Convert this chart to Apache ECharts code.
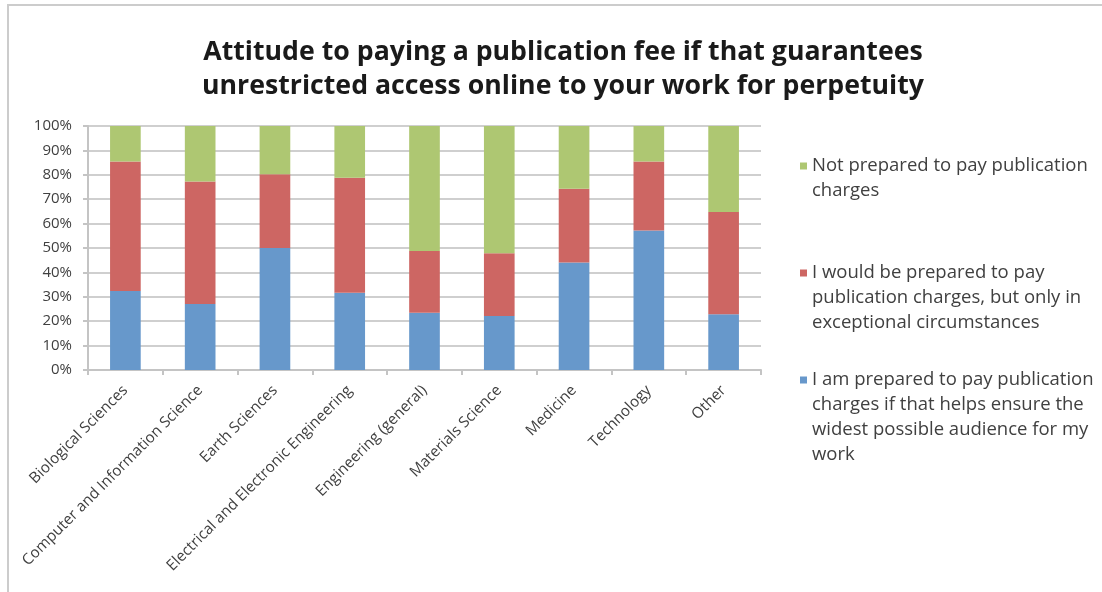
<!DOCTYPE html>
<html>
<head>
<meta charset="utf-8">
<script src="https://cdn.jsdelivr.net/npm/echarts@6/dist/echarts.min.js"></script>
<style>
  html, body { margin: 0; padding: 0; background: #fff; }
  #chart { width: 1102px; height: 592px; }
</style>
</head>
<body>
<div id="chart"></div>
<script>
// Subject areas along the x axis
const categories = [
  'Biological Sciences',
  'Computer and Information Science',
  'Earth Sciences',
  'Electrical and Electronic Engineering',
  'Engineering (general)',
  'Materials Science',
  'Medicine',
  'Technology',
  'Other'
];

// Share of respondents (%) per answer, per subject
const preparedToPay = [32.4, 27.0, 50.0, 31.7, 23.5, 22.1, 44.1, 57.2, 22.8];
const onlyExceptional = [53.0, 50.3, 30.2, 47.1, 25.3, 25.7, 30.2, 28.2, 42.0];
const notPrepared = [14.6, 22.7, 19.8, 21.2, 51.2, 52.2, 25.7, 14.6, 35.2];

// Y axis ticks (percent)
const yTicks = [0, 10, 20, 30, 40, 50, 60, 70, 80, 90, 100];

const names = {
  green: 'Not prepared to pay publication charges',
  red: 'I would be prepared to pay publication charges, but only in exceptional circumstances',
  blue: 'I am prepared to pay publication charges if that helps ensure the widest possible audience for my work'
};

// Wrapped legend labels
const legendLines = {};
legendLines[names.green] = ['Not prepared to pay publication', 'charges'];
legendLines[names.red] = ['I would be prepared to pay', 'publication charges, but only in', 'exceptional circumstances'];
legendLines[names.blue] = ['I am prepared to pay publication', 'charges if that helps ensure the', 'widest possible audience for my', 'work'];

const colors = { blue: '#6798CB', red: '#CD6663', green: '#AEC772' };
const FONT = '"Open Sans", Lato, sans-serif';
const LINE_H = 25;

// Blank lines above keep the legend swatch level with the first line of text
function legendFormatter(name) {
  const lines = legendLines[name];
  const pad = new Array(lines.length - 1).fill('');
  return pad.concat(lines).join('\n');
}

function makeLegend(name, firstLineY) {
  const n = legendLines[name].length;
  return {
    data: [name],
    orient: 'vertical',
    left: 800,
    top: firstLineY - (n - 1) * LINE_H - LINE_H / 2,
    padding: 0,
    itemWidth: 7,
    itemHeight: 7,
    itemGap: 0,
    icon: 'rect',
    selectedMode: false,
    formatter: legendFormatter,
    textStyle: { fontFamily: FONT, fontSize: 18.5, color: '#404040', lineHeight: LINE_H }
  };
}

const chart = echarts.init(document.getElementById('chart'), null, { renderer: 'canvas' });

chart.setOption({
  animation: false,
  backgroundColor: '#ffffff',
  title: {
    text: 'Attitude to paying a publication fee if that guarantees\nunrestricted access online to your work for perpetuity',
    left: 558,
    textAlign: 'center',
    top: 30,
    textStyle: { fontFamily: FONT, fontWeight: 'bold', fontSize: 26.7, color: '#1a1a1a', lineHeight: 34 }
  },
  graphic: [{
    type: 'rect',
    shape: { x: 8, y: 5, width: 1200, height: 700 },
    style: { fill: 'none', stroke: '#CCCCCC', lineWidth: 2 },
    silent: true
  }],
  legend: [
    makeLegend(names.green, 166),
    makeLegend(names.red, 273),
    makeLegend(names.blue, 380)
  ],
  grid: { left: 88, right: 341, top: 126, bottom: 222, containLabel: false },
  xAxis: {
    type: 'category',
    data: categories,
    boundaryGap: true,
    axisLine: { show: true, lineStyle: { color: '#C4C4C4', width: 2 } },
    axisTick: { show: true, alignWithLabel: false, length: 5, inside: false, lineStyle: { color: '#C4C4C4', width: 2 } },
    axisLabel: {
      rotate: 45,
      interval: 0,
      margin: 18,
      fontFamily: FONT,
      fontSize: 15.2,
      color: '#404040'
    }
  },
  yAxis: {
    type: 'value',
    min: yTicks[0],
    max: yTicks[yTicks.length - 1],
    interval: yTicks[1] - yTicks[0],
    axisLine: { show: true, lineStyle: { color: '#C4C4C4', width: 2 } },
    axisTick: { show: true, length: 5, lineStyle: { color: '#C4C4C4', width: 2 } },
    splitLine: { show: true, lineStyle: { color: '#CFCFCF', width: 2 } },
    axisLabel: {
      formatter: v => v + '%',
      margin: 16,
      fontFamily: FONT,
      fontSize: 15,
      color: '#404040'
    }
  },
  series: [
    {
      name: names.blue, type: 'bar', stack: 'total', data: preparedToPay,
      barWidth: '41%', itemStyle: { color: colors.blue }
    },
    {
      name: names.red, type: 'bar', stack: 'total', data: onlyExceptional,
      barWidth: '41%', itemStyle: { color: colors.red }
    },
    {
      name: names.green, type: 'bar', stack: 'total', data: notPrepared,
      barWidth: '41%', itemStyle: { color: colors.green }
    }
  ]
});
</script>
</body>
</html>
